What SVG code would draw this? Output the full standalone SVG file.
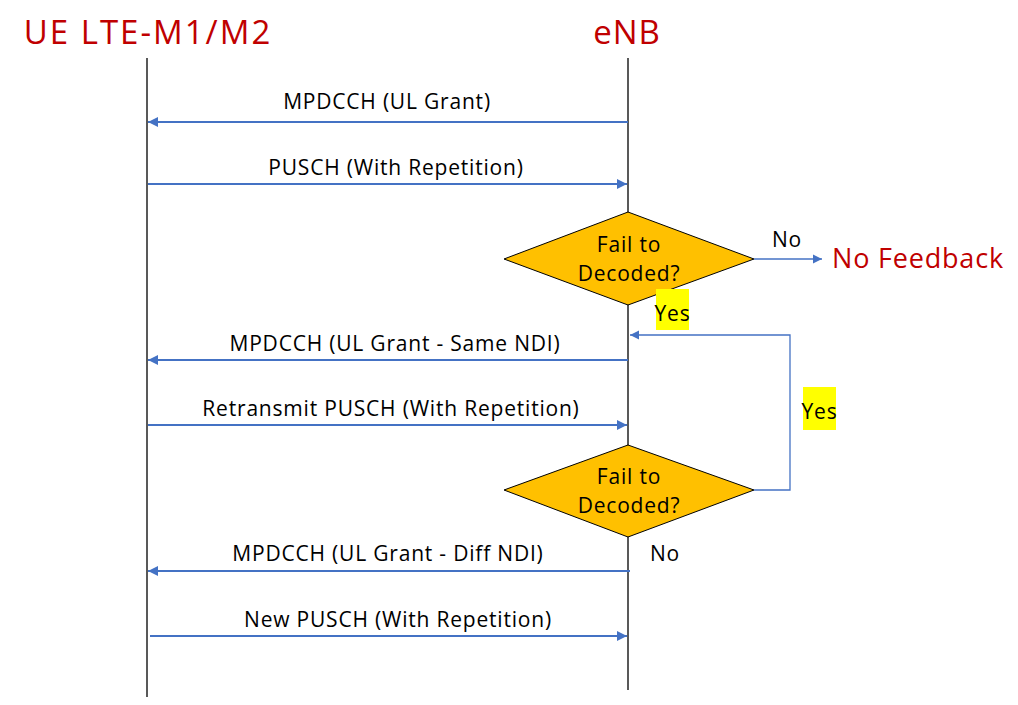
<svg xmlns="http://www.w3.org/2000/svg" width="1018" height="705" viewBox="0 0 1018 705">
<style>
.t{font-family:"Open Sans","Liberation Sans",sans-serif;font-size:21px;letter-spacing:0.8px;fill:#000;text-anchor:middle}
.h{font-family:"Open Sans","Liberation Sans",sans-serif;fill:#c00000;text-anchor:middle}
.life{stroke:#595959;stroke-width:2;fill:none}
.msg{stroke:#4472c4;stroke-width:2;fill:none;marker-end:url(#ah)}
.thin{stroke:#4472c4;stroke-width:1.3;fill:none;marker-end:url(#ah2)}
.dia{fill:#ffc000;stroke:#000;stroke-width:1}
.hl{fill:#ffff00}
</style>
<defs>
<marker id="ah" viewBox="0 0 10 10" refX="10" refY="5" markerWidth="5" markerHeight="5" orient="auto" markerUnits="strokeWidth"><path d="M0,0 L10,5 L0,10 z" fill="#4472c4"/></marker>
<marker id="ah2" viewBox="0 0 10 10" refX="10" refY="5" markerWidth="7" markerHeight="7" orient="auto" markerUnits="strokeWidth"><path d="M0,0 L10,5 L0,10 z" fill="#4472c4"/></marker>
</defs>
<rect width="1018" height="705" fill="#fff"/>
<g id="ue">
<text class="h" x="148" y="44" font-size="33" letter-spacing="2">UE LTE-M1/M2</text>
<line class="life" x1="147" y1="58" x2="147" y2="697"/>
</g>
<g id="enb">
<text class="h" x="627" y="44" font-size="33" letter-spacing="1">eNB</text>
<line class="life" x1="628" y1="58" x2="628" y2="690"/>
</g>
<g id="decision1">
<polygon class="dia" points="628,212 754,259 628,305 504,259"/>
<text class="t" x="629" y="252">Fail to</text>
<text class="t" x="629" y="281">Decoded?</text>
</g>
<g id="decision2">
<polygon class="dia" points="628,445 754,490 628,537 504,490"/>
<text class="t" x="629" y="484">Fail to</text>
<text class="t" x="629" y="513">Decoded?</text>
</g>
<g id="nofeedback">
<text class="h" x="918" y="268" font-size="27" letter-spacing="0.8">No Feedback</text>
</g>
<g id="connectors">
<line class="msg" x1="628" y1="122" x2="148" y2="122"/>
<text class="t" x="387" y="109">MPDCCH (UL Grant)</text>
<line class="msg" x1="148" y1="184" x2="627" y2="184"/>
<text class="t" x="396" y="175">PUSCH (With Repetition)</text>
<line class="thin" x1="754" y1="259" x2="822" y2="259"/>
<text class="t" x="787" y="247">No</text>
<rect class="hl" x="656" y="289" width="33" height="41"/>
<text class="t" x="672.5" y="321">Yes</text>
<line class="msg" x1="628" y1="360" x2="148" y2="360"/>
<text class="t" x="395" y="351">MPDCCH (UL Grant - Same NDI)</text>
<line class="msg" x1="148" y1="425" x2="627" y2="425"/>
<text class="t" x="391" y="416">Retransmit PUSCH (With Repetition)</text>
<polyline class="thin" points="754,490 790,490 790,335 630,335"/>
<rect class="hl" x="803" y="387" width="33" height="43"/>
<text class="t" x="819.5" y="419">Yes</text>
<text class="t" x="665" y="561">No</text>
<line class="msg" x1="630" y1="571" x2="148" y2="571"/>
<text class="t" x="388" y="561">MPDCCH (UL Grant - Diff NDI)</text>
<line class="msg" x1="150" y1="636" x2="627" y2="636"/>
<text class="t" x="398" y="627">New PUSCH (With Repetition)</text>
</g>
</svg>
